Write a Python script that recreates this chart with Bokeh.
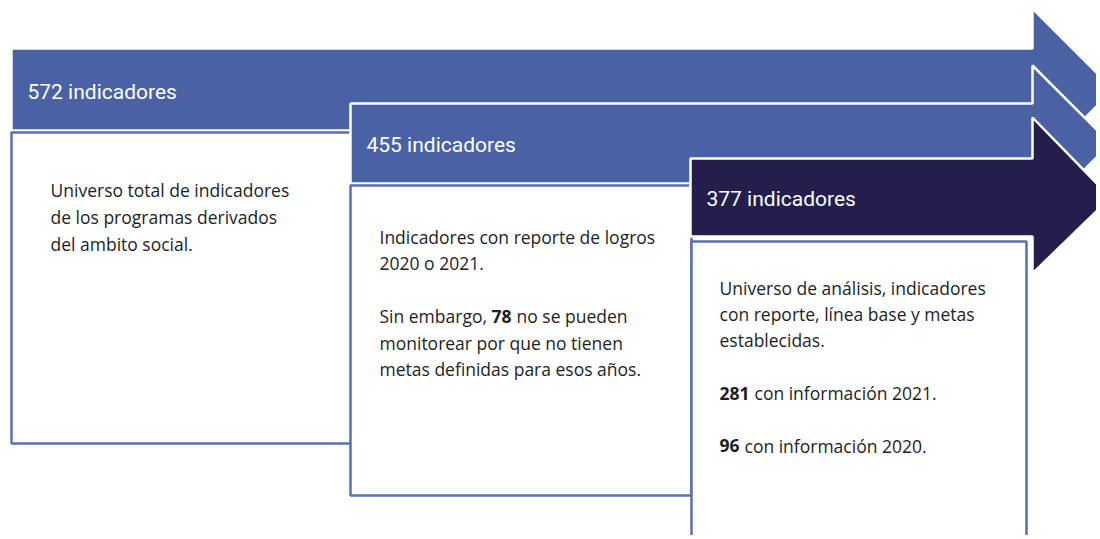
from bokeh.plotting import figure
from bokeh.models import Range1d
from bokeh.embed import file_html
from bokeh.resources import INLINE
from bokeh.core.properties import value

# ---- data ----
counts = [572, 455, 377]
unit_label = "indicadores"
arrow_colors = ["#4a62a3", "#4a62a3", "#231e4c"]

box1_lines = [
    [("Universo total de indicadores", False)],
    [("de los programas derivados", False)],
    [("del ambito social.", False)],
]
box2_lines = [
    [("Indicadores con reporte de logros", False)],
    [("2020 o 2021.", False)],
    [],
    [("Sin embargo,", False), ("78", True), ("no se pueden", False)],
    [("monitorear por que no tienen", False)],
    [("metas definidas para esos años.", False)],
]
box3_lines = [
    [("Universo de análisis, indicadores", False)],
    [("con reporte, línea base y metas", False)],
    [("establecidas.", False)],
    [],
    [("281", True), ("con información 2021.", False)],
    [],
    [("96", True), ("con información 2020.", False)],
]
boxes_text = [box1_lines, box2_lines, box3_lines]

# ---- layout (pixel coordinates of the image) ----
W, H = 1096, 535
stage_left = [11, 350, 690]
body_top = [48, 103, 158]
body_bottom = [130, 183, 236]
head_top = [8, 65, 117]
head_bottom = [170, 221, 273]
neck_x = 1032
box_left = [11, 350, 691]
box_right = [351, 691, 1026]
box_top = [132, 185, 241]
box_bottom = [443, 495, 560]
header_x = [27, 366, 706]
header_y = [91.5, 144, 198]
text_x = [50, 379, 719]
text_y0 = [189, 236, 287]
line_h = [27, 26.5, 26.4]
# starting offsets of inline segments within a line
seg_offsets = {
    (1, 3): [0, 112, 137],
    (2, 4): [0, 35],
    (2, 6): [0, 25],
}

p = figure(width=W, height=H, output_backend="svg", toolbar_location=None,
           x_range=Range1d(0, W), y_range=Range1d(H, 0),
           min_border=0, background_fill_color="white", border_fill_color="white")
p.axis.visible = False
p.grid.visible = False
p.outline_line_color = None

BODY_FONT = value("Open Sans")
HEAD_FONT = value("Roboto")
BODY_SIZE = "17.5px"

for i in range(3):
    # arrow
    c = (body_top[i] + body_bottom[i]) / 2
    half = (head_bottom[i] - head_top[i]) / 2
    tip = neck_x + half
    xs = [stage_left[i], neck_x, neck_x, tip, neck_x, neck_x, stage_left[i]]
    ys = [body_top[i], body_top[i], head_top[i], c, head_bottom[i], body_bottom[i], body_bottom[i]]
    p.patch(xs, ys, fill_color=arrow_colors[i], line_color="white", line_width=2.5)
    # header text
    p.text(x=[header_x[i]], y=[header_y[i]], text=[f"{counts[i]} {unit_label}"],
           text_font=HEAD_FONT, text_font_size="21px", text_color="white",
           text_baseline="middle", text_align="left")
    # box
    p.quad(left=[box_left[i]], right=[box_right[i]], top=[box_top[i]], bottom=[box_bottom[i]],
           fill_color="white", line_color="#5b6fb3", line_width=2.5)
    # box text
    nx, ny, nt, bx, by, bt = [], [], [], [], [], []
    for li, segs in enumerate(boxes_text[i]):
        y = text_y0[i] + li * line_h[i]
        offs = seg_offsets.get((i, li), [0])
        for si, (t, bold) in enumerate(segs):
            x = text_x[i] + offs[si]
            if bold:
                bx.append(x); by.append(y); bt.append(t)
            else:
                nx.append(x); ny.append(y); nt.append(t)
    p.text(x=nx, y=ny, text=nt, text_font=BODY_FONT, text_font_size=BODY_SIZE,
           text_color="#1e1e1e", text_baseline="middle", text_align="left")
    if bt:
        p.text(x=bx, y=by, text=bt, text_font=BODY_FONT, text_font_size=BODY_SIZE,
               text_font_style="bold", text_color="#1e1e1e", text_baseline="middle",
               text_align="left")

open("out.html", "w").write(file_html(p, INLINE))
